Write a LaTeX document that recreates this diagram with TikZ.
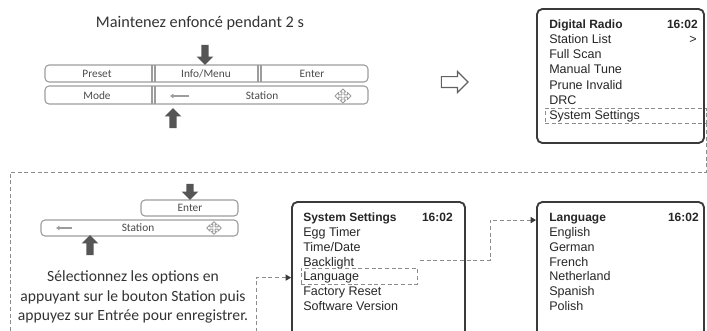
\documentclass[tikz,border=0pt]{standalone}
\usepackage{fontspec}
\setmainfont{Carlito}
\newfontfamily\screenfont{Liberation Sans}
\usepackage{tikz}
\usetikzlibrary{arrows.meta,positioning,fit,calc,shapes.arrows}
\definecolor{KeyGrey}{HTML}{9C9C9C}
\definecolor{KeyText}{HTML}{4A4A4A}
\definecolor{PushGrey}{HTML}{555555}
\definecolor{ScreenEdge}{HTML}{3A3A3A}
\definecolor{MenuInk}{HTML}{262626}
\definecolor{LinkGrey}{HTML}{8C8C8C}
\definecolor{HintInk}{HTML}{333333}

\tikzset{
  crosskey/.pic={
    \draw[KeyGrey, line width=0.7pt, line join=round]
      (0,-7) -- (3,-4) -- (1.2,-4) -- (1.2,-1.2) -- (4.5,-1.2) -- (4.5,-3.5) -- (8,0)
      -- (4.5,3.5) -- (4.5,1.2) -- (1.2,1.2) -- (1.2,4) -- (3,4) -- (0,7) -- (-3,4)
      -- (-1.2,4) -- (-1.2,1.2) -- (-4.5,1.2) -- (-4.5,3.5) -- (-8,0) -- (-4.5,-3.5)
      -- (-4.5,-1.2) -- (-1.2,-1.2) -- (-1.2,-4) -- (-3,-4) -- cycle;
  }
}

\begin{document}
\begin{tikzpicture}[
  x=0.75pt, y=-0.75pt,
  keyrow/.style={draw=KeyGrey, line width=0.8pt, rounded corners=3pt, inner sep=0pt},
  keysep/.style={draw=KeyGrey, line width=0.8pt},
  keylabel/.style={text=KeyText, font=\fontsize{8.5}{10}\selectfont, inner sep=0pt},
  push/.style={single arrow, fill=PushGrey, inner sep=2.6pt, single arrow head extend=3.4pt,
    single arrow head indent=0pt, minimum height=15pt},
  screen/.style={draw=ScreenEdge, line width=1.4pt, rounded corners=4pt, inner sep=0pt},
  menuline/.style={anchor=west, inner sep=0pt, text height=7pt, text depth=2pt, text=MenuInk,
    font=\screenfont\fontsize{9.4}{11}\selectfont},
  menutitle/.style={menuline, font=\screenfont\bfseries\fontsize{9}{11}\selectfont},
  clock/.style={menutitle, anchor=east},
  hilite/.style={draw=LinkGrey, dash pattern=on 3pt off 2pt, line width=0.7pt, inner sep=0pt},
  link/.style={draw=LinkGrey, dash pattern=on 3pt off 2pt, line width=0.7pt},
  linktip/.style={-{Triangle[length=4pt, width=4.5pt, color=ScreenEdge]}},
  hint/.style={align=center, text=HintInk, font=\fontsize{11.7}{14.8}\selectfont, inner sep=0pt}
]
\useasboundingbox (0,0) rectangle (707,330);

% hold Info/Menu
\node[hint, font=\fontsize{12.2}{14}\selectfont] (holdtext) at (200,23) {Maintenez enfoncé pendant 2 s};
\node[keyrow, fit={(45,65) (368,82)}] (toprow) {};
\node[keyrow, fit={(45,86) (368,104)}] (botrow) {};
\foreach \sx in {152,155,258,261}
  \draw[keysep] (\sx,65) -- (\sx,82);
\foreach \sx in {152,155}
  \draw[keysep] (\sx,86) -- (\sx,104);
\node[keylabel] (preset) at (97,74) {Preset};
\node[keylabel] (info) at (206,74) {Info/Menu};
\node[keylabel] (enter) at (312,74) {Enter};
\node[keylabel] (mode) at (97,96) {Mode};
\node[keylabel] (station) at (262,96) {Station};
\draw[KeyGrey, line width=1.2pt, -{Latex[length=2.5pt, width=4pt]}] (189,96) -- (170,96);
\pic at (343,96) {crosskey};
\node[push, rotate=-90] (infopush) at (205,53) {};
\node[push, rotate=90] (stationpush) at (173,120) {};

\node[single arrow, draw=LinkGrey!70!black, line width=0.9pt, inner sep=3.6pt,
  single arrow head extend=3.8pt, single arrow head indent=0pt, minimum height=20pt] (goes) at (452,82) {};

% main menu
\node[screen, fit={(537,9) (704,143)}] (radio) {};
\node[menutitle] (radio1) at (549,25) {Digital Radio};
\foreach \txt [count=\i from 2] in {Station List, Full Scan, Manual Tune, Prune Invalid, DRC, System Settings}
  \node[menuline] (radio\i) at (549,{25+15.2*(\i-1)}) {\txt};
\node[clock] (radioclock) at (698,25) {16:02};
\node[menuline, anchor=east] (radiomore) at (697,40) {>};
\node[hilite, fit={(545,108) (706,123)}] (radiohl) {};

% select option
\node[keyrow, fit={(141,200) (238,216)}] (enterrow) {};
\node[keyrow, fit={(41,220) (238,236)}] (stationrow) {};
\node[keylabel] (enter2) at (190,208) {Enter};
\node[keylabel] (station2) at (138,228) {Station};
\draw[KeyGrey, line width=1.2pt, -{Latex[length=2.5pt, width=4pt]}] (72,228) -- (56,228);
\pic[scale=0.9] at (214,228) {crosskey};
\node[push, rotate=-90, minimum height=12pt] (enterpush) at (190,190) {};
\node[push, rotate=90] (stationpush2) at (90,247) {};
\node[hint] (note) at (133,297) {Sélectionnez les options en\\appuyant sur le bouton Station puis\\appuyez sur Entrée pour enregistrer.};

% system settings
\node[screen, fit={(292,202) (465,345)}] (setup) {};
\node[menutitle] (setup1) at (303,218) {System Settings};
\foreach \txt [count=\i from 2] in {Egg Timer, Time/Date, Backlight, Language, Factory Reset, Software Version}
  \node[menuline] (setup\i) at (303,{218+14.9*(\i-1)}) {\txt};
\node[clock] (setupclock) at (453,218) {16:02};
\node[hilite, fit={(301,268) (417,284)}] (setuphl) {};

% language
\node[screen, fit={(537,202) (704,345)}] (lang) {};
\node[menutitle] (lang1) at (549,218) {Language};
\foreach \txt [count=\i from 2] in {English, German, French, Netherland, Spanish, Polish}
  \node[menuline] (lang\i) at (549,{218+14.9*(\i-1)}) {\txt};
\node[clock] (langclock) at (699,218) {16:02};

% dashed links
\coordinate (framefoot) at (10,332);
\coordinate (notefoot) at (256,332);
\coordinate (langtap) at (420,260);
\draw[link] (radiohl.south east) |- (framefoot |- 0,172) -- (framefoot);
\draw[link, linktip] (notefoot) |- (setup.west |- setup5);
\draw[link, linktip] (langtap) -- (490,260) |- ($(lang.north west)+(0,19)$);
\end{tikzpicture}
\end{document}
